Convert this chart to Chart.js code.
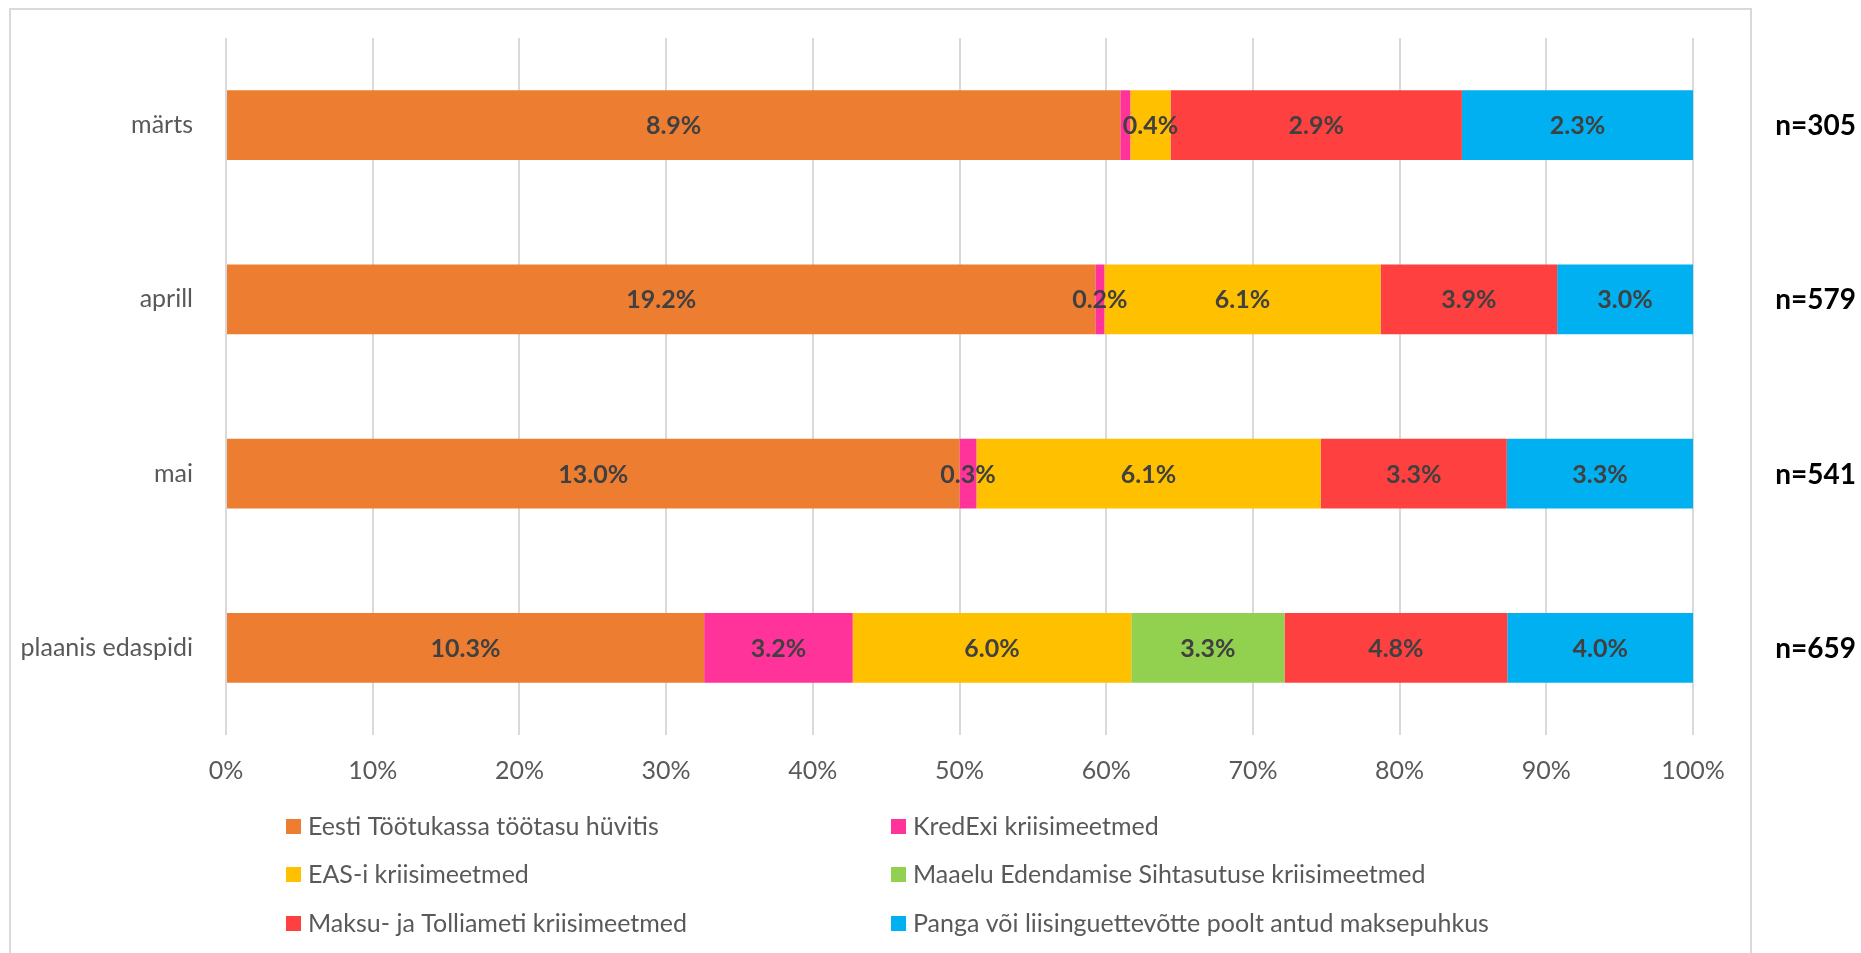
<!DOCTYPE html>
<html>
<head>
<meta charset="utf-8">
<script src="https://cdn.jsdelivr.net/npm/chart.js@4.4.0/dist/chart.umd.min.js"></script>
<style>
  html, body { margin: 0; padding: 0; background: #fff; }
</style>
</head>
<body>
<canvas id="chart" width="1861" height="953"></canvas>
<script>
// data
const categories = ['märts', 'aprill', 'mai', 'plaanis edaspidi'];
const sampleSizes = ['n=305', 'n=579', 'n=541', 'n=659'];

const seriesNames = [
    'Eesti Töötukassa töötasu hüvitis',
    'KredExi kriisimeetmed',
    'EAS-i kriisimeetmed',
    'Maaelu Edendamise Sihtasutuse kriisimeetmed',
    'Maksu- ja Tolliameti kriisimeetmed',
    'Panga või liisinguettevõtte poolt antud maksepuhkus'
];
const seriesColors = ['#ED7D31', '#FF3399', '#FFC000', '#92D050', '#FF4040', '#00B0F0'];

// raw shares (%), the bars are drawn as 100% stacked
const tootukassa = [8.9, 19.2, 13.0, 10.3];
const kredex     = [0.1, 0.2, 0.3, 3.2];
const eas        = [0.4, 6.1, 6.1, 6.0];
const maaelu     = [0, 0, 0, 3.3];
const mta        = [2.9, 3.9, 3.3, 4.8];
const pank       = [2.3, 3.0, 3.3, 4.0];

const rawSeries = [tootukassa, kredex, eas, maaelu, mta, pank];

// row totals -> normalised shares
const totals = categories.map((c, i) => rawSeries.reduce((s, arr) => s + arr[i], 0));
const datasets = rawSeries.map((arr, k) => ({
    label: seriesNames[k],
    data: arr.map((v, i) => v / totals[i] * 100),
    backgroundColor: seriesColors[k],
    borderWidth: 0,
    barPercentage: 0.4,
    categoryPercentage: 1.0
}));

const FONT = 'Lato';
const GREY = '#595959';

// frame around the chart
const frame = {
    id: 'frame',
    beforeDraw(chart) {
        const ctx = chart.ctx;
        ctx.save();
        ctx.fillStyle = '#fff';
        ctx.fillRect(0, 0, chart.width, chart.height);
        ctx.strokeStyle = '#d9d9d9';
        ctx.lineWidth = 2;
        ctx.strokeRect(10, 9, 1741, 1000);
        ctx.restore();
    }
};

// value labels + n= labels
const valueLabels = {
    id: 'valueLabels',
    afterDatasetsDraw(chart) {
        const ctx = chart.ctx;
        ctx.save();
        ctx.textAlign = 'center';
        ctx.textBaseline = 'middle';
        ctx.font = 'bold 25px ' + FONT;
        ctx.fillStyle = '#404040';
        chart.data.datasets.forEach((ds, di) => {
            const meta = chart.getDatasetMeta(di);
            meta.data.forEach((bar, i) => {
                const v = rawSeries[di][i];
                if (v <= 0.1) return; // tiny märts KredEx label is not shown
                const p = bar.getCenterPoint();
                ctx.fillText(v.toFixed(1) + '%', p.x, p.y + 1);
            });
        });

        const y = chart.scales.y;
        ctx.textAlign = 'right';
        ctx.font = 'bold 28px ' + FONT;
        ctx.fillStyle = '#000';
        sampleSizes.forEach((s, i) => {
            ctx.fillText(s, 1856, y.getPixelForValue(i) + 1);
        });
        ctx.restore();
    }
};

// two column legend at the bottom
const legendGrid = {
    id: 'legendGrid',
    afterDraw(chart) {
        const ctx = chart.ctx;
        const colX = [286, 891];
        const rowY = [826, 874, 923];
        ctx.save();
        ctx.font = '25px ' + FONT;
        ctx.textBaseline = 'middle';
        ctx.textAlign = 'left';
        chart.data.datasets.forEach((ds, i) => {
            const x = colX[i % 2];
            const yy = rowY[Math.floor(i / 2)];
            ctx.fillStyle = ds.backgroundColor;
            ctx.fillRect(x, yy - 7, 15, 15);
            ctx.fillStyle = GREY;
            ctx.fillText(ds.label, x + 22, yy + 1);
        });
        ctx.restore();
    }
};

const ctx = document.getElementById('chart').getContext('2d');
new Chart(ctx, {
    type: 'bar',
    data: { labels: categories, datasets: datasets },
    options: {
        responsive: false,
        animation: false,
        indexAxis: 'y',
        layout: { padding: { top: 38, right: 168, left: 0, bottom: 0 } },
        scales: {
            x: {
                stacked: true,
                min: 0,
                max: 100,
                ticks: {
                    stepSize: 10,
                    callback: v => v + '%',
                    color: GREY,
                    font: { family: FONT, size: 25 },
                    padding: 21
                },
                grid: { color: '#d9d9d9', lineWidth: 2, drawTicks: false },
                border: { display: false },
                afterFit: s => { s.height = 218; s.paddingLeft = 0; s.paddingRight = 0; }
            },
            y: {
                stacked: true,
                ticks: {
                    color: GREY,
                    font: { family: FONT, size: 25 },
                    padding: 25
                },
                grid: { display: false },
                border: { display: false },
                // keep the tick padding from pushing the plot area down
                afterFit: s => { s.width = 226; s.paddingTop = 0; s.paddingBottom = 0; }
            }
        },
        plugins: {
            legend: { display: false },
            tooltip: { enabled: false }
        }
    },
    plugins: [frame, valueLabels, legendGrid]
});
</script>
</body>
</html>
